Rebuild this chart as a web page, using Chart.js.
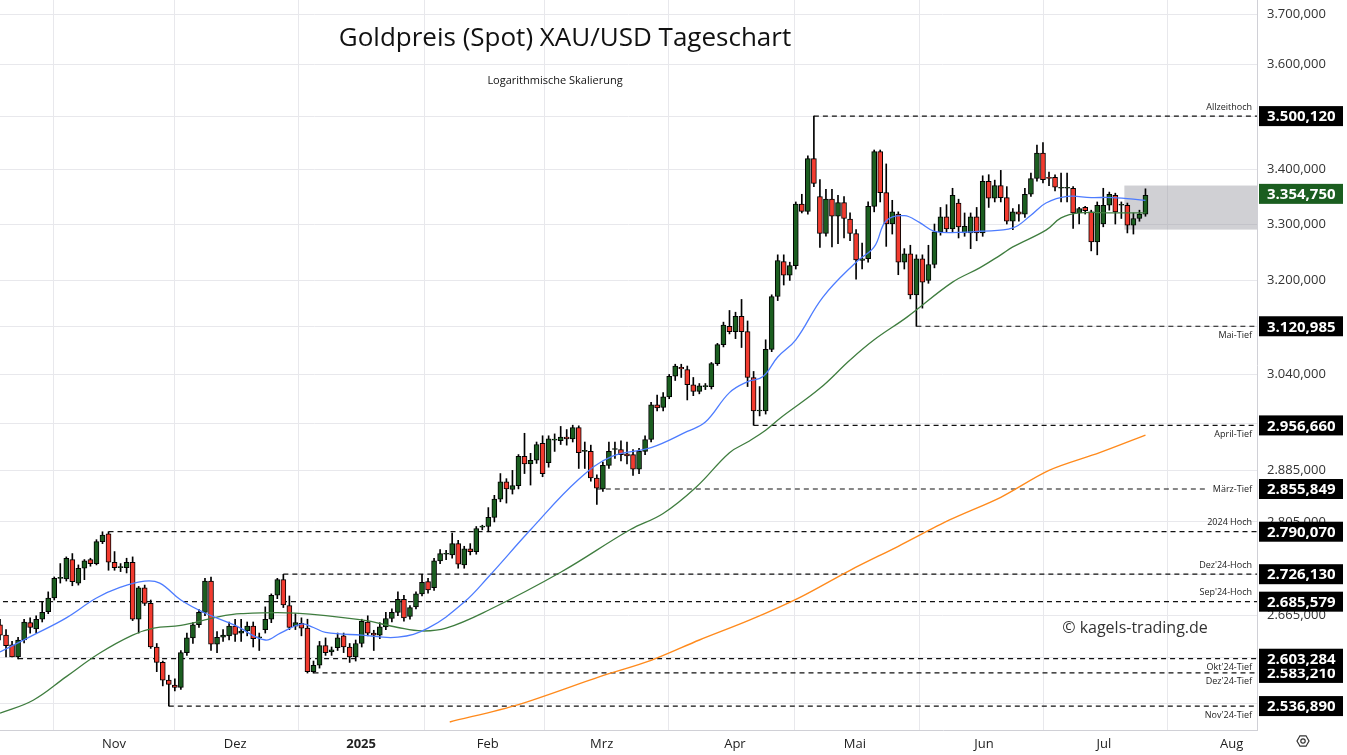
<!DOCTYPE html>
<html><head><meta charset="utf-8">
<script src="https://cdn.jsdelivr.net/npm/chart.js@4.4.1/dist/chart.umd.min.js"></script>
<style>html,body{margin:0;padding:0;background:#fff}#wrap{width:1347px;height:755px;position:relative}</style>
</head><body><div id="wrap"><canvas id="c"></canvas></div>
<script>
// OHLC per trading day (index 0 = early Oct 2024)
const ohlc = [
[2652,2660,2630,2637],[2637,2645,2606,2622],[2623,2628,2606,2606],[2606,2634,2603,2630],[2630,2660,2626,2656],
[2655,2662,2640,2648],[2646,2665,2640,2660],[2660,2686,2656,2670],[2671,2700,2668,2691],[2691,2722,2688,2720],
[2720,2742,2713,2721],[2719,2752,2716,2750],[2748,2757,2709,2715],[2713,2740,2710,2735],[2735,2748,2718,2746],
[2748,2750,2738,2742],[2742,2778,2740,2775],[2775,2790,2772,2785],[2787,2790,2732,2744],[2744,2760,2732,2736],
[2736,2742,2730,2737],[2736,2750,2728,2744],[2744,2752,2658,2660],[2660,2708,2640,2706],[2706,2710,2680,2683],
[2683,2688,2618,2620],[2620,2625,2585,2598],[2598,2600,2565,2573],[2573,2580,2537,2567],[2566,2575,2558,2563],
[2563,2615,2560,2612],[2612,2640,2608,2633],[2633,2655,2625,2652],[2652,2674,2648,2670],[2670,2720,2665,2716],
[2716,2722,2615,2624],[2624,2642,2612,2634],[2634,2645,2628,2637],[2636,2656,2630,2650],[2650,2660,2628,2638],
[2640,2660,2628,2643],[2643,2656,2636,2650],[2650,2656,2620,2632],[2633,2640,2615,2634],[2645,2678,2640,2660],
[2660,2697,2655,2695],[2695,2720,2690,2718],[2718,2726,2677,2681],[2680,2694,2645,2648],[2650,2668,2645,2655],
[2654,2662,2636,2647],[2647,2660,2583,2585],[2585,2600,2583,2594],[2594,2628,2590,2622],[2622,2633,2608,2612],
[2613,2620,2608,2616],[2619,2640,2615,2633],[2636,2640,2612,2620],[2620,2625,2598,2606],[2606,2630,2600,2625],
[2625,2660,2620,2657],[2656,2665,2636,2640],[2640,2644,2615,2637],[2637,2655,2632,2649],[2649,2670,2645,2661],
[2661,2675,2656,2670],[2670,2700,2665,2689],[2689,2695,2657,2662],[2664,2680,2660,2677],[2678,2700,2675,2697],
[2697,2726,2694,2714],[2715,2720,2698,2703],[2706,2750,2702,2746],[2746,2763,2742,2757],[2756,2762,2748,2757],
[2755,2788,2750,2772],[2772,2777,2735,2741],[2740,2768,2735,2764],[2764,2772,2755,2760],[2760,2798,2756,2795],
[2797,2800,2793,2798],[2798,2827,2790,2812],[2812,2846,2805,2840],[2840,2880,2836,2867],[2867,2872,2834,2856],
[2855,2885,2848,2861],[2861,2910,2856,2907],[2907,2944,2880,2895],[2895,2912,2862,2901],[2901,2930,2896,2926],
[2928,2940,2875,2880],[2897,2940,2890,2935],[2933,2943,2915,2934],[2932,2955,2926,2938],[2938,2950,2925,2935],
[2935,2957,2930,2953],[2953,2956,2888,2913],[2915,2930,2888,2916],[2915,2925,2868,2873],[2873,2878,2832,2857],
[2856,2898,2852,2893],[2893,2930,2888,2915],[2918,2930,2904,2919],[2918,2932,2900,2910],[2911,2930,2895,2908],
[2910,2918,2877,2887],[2887,2920,2880,2915],[2915,2940,2910,2934],[2934,2994,2930,2990],[2990,3006,2980,2985],
[2986,3010,2980,3003],[3003,3040,3000,3037],[3037,3057,3030,3054],[3052,3057,3035,3049],[3048,3054,2998,3023],
[3023,3035,3005,3012],[3012,3025,3008,3021],[3020,3025,3015,3021],[3020,3060,3016,3058],[3058,3092,3055,3090],
[3090,3128,3086,3123],[3121,3148,3108,3112],[3112,3145,3100,3138],[3138,3167,3085,3112],[3112,3130,3020,3035],
[3035,3045,2957,2980],[2980,3020,2972,2981],[2980,3098,2975,3082],[3082,3175,3078,3172],[3172,3245,3165,3235],
[3233,3245,3192,3209],[3209,3232,3200,3226],[3226,3340,3220,3336],[3336,3354,3320,3323],[3323,3425,3318,3420],
[3420,3500,3368,3374],[3350,3381,3258,3283],[3283,3363,3278,3345],[3345,3363,3259,3314],[3314,3352,3265,3339],
[3339,3350,3275,3310],[3309,3320,3270,3283],[3283,3290,3202,3236],[3235,3266,3220,3238],[3238,3340,3232,3332],
[3332,3436,3322,3433],[3433,3436,3340,3357],[3357,3410,3260,3300],[3300,3343,3282,3322],[3318,3322,3210,3232],
[3232,3256,3220,3247],[3247,3262,3168,3175],[3175,3245,3121,3238],[3238,3245,3152,3197],[3200,3262,3195,3228],
[3228,3300,3222,3286],[3286,3330,3280,3313],[3313,3335,3285,3291],[3291,3365,3285,3352],[3338,3345,3275,3295],
[3284,3320,3278,3296],[3284,3320,3256,3313],[3313,3330,3270,3284],[3284,3388,3278,3378],[3378,3390,3330,3347],
[3347,3380,3340,3370],[3370,3398,3340,3348],[3348,3368,3300,3305],[3305,3328,3290,3322],[3322,3335,3305,3318],
[3318,3365,3312,3354],[3354,3393,3350,3383],[3383,3445,3378,3430],[3430,3450,3375,3381],[3385,3395,3370,3383],
[3385,3390,3360,3367],[3365,3393,3340,3366],[3365,3393,3340,3366],[3365,3368,3292,3320],[3320,3330,3300,3328],
[3330,3332,3318,3324],[3322,3325,3252,3268],[3268,3340,3245,3334],[3300,3365,3295,3334],[3334,3358,3325,3354],
[3352,3356,3300,3322],[3334,3340,3310,3335],[3334,3338,3284,3298],[3298,3320,3282,3310],[3310,3325,3305,3318],
[3318,3364,3314,3352]
];
// Moving averages: [day index, value]
const ma20 = [[0,2613],[5.5,2637],[11,2662],[16,2691],[20,2707],[24,2716],[26.5,2713],[30,2688],[34,2669],[39,2651],
[44,2630],[46.5,2640],[50,2653],[52,2648],[54,2641],[60,2637],[66,2634],[71,2647],[77,2685],[81,2722],[88,2793],
[96,2871],[101.5,2907],[108,2921],[114,2947],[117,2962],[121,3010],[124,3028],[126.5,3036],[129,3069],[132,3098],
[136.5,3171],[142,3232],[145,3259],[147,3306],[150,3315],[152.5,3303],[155,3287],[159,3285],[162.5,3287],[168,3293],
[171,3316],[173.5,3338],[177,3350],[181,3348],[184.5,3348],[190,3343]];
const ma50 = [[0,2527],[5.5,2545],[11,2578],[16.5,2611],[22,2637],[25.5,2647],[30,2651],[36,2663],[40,2668],[49,2669],
[60,2659],[66,2648],[70,2643],[74,2647],[81,2673],[93,2729],[104.5,2793],[110,2818],[115.5,2859],[121,2913],[124,2930],
[127,2949],[129.5,2969],[136,3017],[141,3064],[145,3098],[150.5,3137],[158,3197],[162.5,3222],[166,3245],[168,3259],
[173.5,3289],[176,3311],[179,3320],[184.5,3320],[190,3320]];
const ma200 = [[74.6,2515],[86,2539],[99.5,2578],[108,2601],[116,2630],[124.4,2659],[132.7,2692],[141,2732],[149,2768],
[157.5,2808],[166,2843],[174,2885],[182.4,2913],[190,2941]];
// Marked levels: [label, value, start day index, label placement]
const levels = [["Allzeithoch",3500.12,135,"above"],["Mai-Tief",3120.985,152,"below"],["April-Tief",2956.66,125,"below"],
["März-Tief",2855.849,99,"on"],["2024 Hoch",2790.07,18,"above"],["Dez'24-Hoch",2726.13,47,"above"],
["Sep'24-Hoch",2685.579,-1,"above"],["Okt'24-Tief",2603.284,3,"below"],["Dez'24-Tief",2583.21,52,"below"],
["Nov'24-Tief",2536.89,28,"below"]];
const lastPrice = 3354.75;
const yTicks = [3700,3600,3500,3400,3300,3200,3120,3040,2960,2885,2805,2725,2665,2605,2540];
const monthTicks = [18.9,39,59.9,80.9,99.8,121.9,141.8,163.2,183.1,204.3];
const monthLabels = ["Nov","Dez","2025","Feb","Mrz","Apr","Mai","Jun","Jul","Aug"];
const rangeBox = [186.5,3290,3370];

const fmt = v => v.toLocaleString('de-DE',{minimumFractionDigits:3,maximumFractionDigits:3});
const XMAX = 208.5;
const wicks = ohlc.map((d,i)=>({x:i,y:[d[2],d[1]]}));
const bodies = ohlc.map((d,i)=>({x:i,y:[d[0],d[3]]}));
const bodyCol = ohlc.map(d=> d[3]>=d[0] ? '#1b5e20' : '#f23b2f');
const levelSets = levels.map(l=>({type:'line',data:[{x:l[2],y:l[1]},{x:(l[3]==='on'?XMAX-8:XMAX),y:l[1]}],
  borderColor:'#111',borderWidth:1.2,borderDash:[5,4],pointRadius:0,order:5}));

const overlay = {
  id:'overlay',
  beforeDatasetsDraw(ch){
    const {ctx,scales:{x,y},chartArea:a}=ch;
    ctx.save();
    ctx.fillStyle='rgba(150,150,160,0.45)';
    const y1=y.getPixelForValue(rangeBox[2]), y2=y.getPixelForValue(rangeBox[1]);
    ctx.fillRect(x.getPixelForValue(rangeBox[0]),y1,a.right-x.getPixelForValue(rangeBox[0]),y2-y1);
    ctx.restore();
  },
  afterDraw(ch){
    const {ctx,scales:{x,y},chartArea:a}=ch;
    ctx.save();
    ctx.textBaseline='middle';
    ctx.font='13px "Open Sans", sans-serif';ctx.fillStyle='#333';ctx.textAlign='left';
    yTicks.forEach(v=>ctx.fillText(fmt(v),1267,y.getPixelForValue(v)));
    ctx.fillStyle='#111';ctx.textAlign='center';
    ctx.font='26px "Open Sans", "DejaVu Sans", sans-serif';
    ctx.fillText('Goldpreis (Spot) XAU/USD Tageschart',565,39);
    ctx.font='11px "Open Sans", sans-serif';
    ctx.fillText('Logarithmische Skalierung',555,81);
    ctx.font='16px "Open Sans", sans-serif';ctx.fillStyle='#333';
    ctx.fillText('© kagels-trading.de',1135,628);
    ctx.font='9px "Open Sans", sans-serif';ctx.textAlign='right';
    levels.forEach(l=>{
      const py=y.getPixelForValue(l[1]);
      let ty = l[3]==='above'? py-9 : l[3]==='below'? py+9 : py;
      ctx.fillStyle='#222';
      ctx.fillText(l[0],1252,ty);
    });
    const box=(v,col)=>{
      const py=y.getPixelForValue(v);
      ctx.fillStyle=col;ctx.fillRect(1259,py-10,84,20);
      ctx.fillStyle='#fff';ctx.font='bold 15px "Open Sans", sans-serif';ctx.textAlign='left';
      ctx.fillText(fmt(v),1267,py+1);
    };
    levels.slice().reverse().forEach(l=>box(l[1],'#000'));
    box(lastPrice,'#1b5e20');
    ctx.strokeStyle='#333';ctx.lineWidth=1.2;
    ctx.beginPath();const cx=1303,cy=741;
    for(let k=0;k<6;k++){const ang=Math.PI/3*k;ctx.lineTo(cx+6*Math.cos(ang),cy+6*Math.sin(ang));}
    ctx.closePath();ctx.stroke();ctx.beginPath();ctx.arc(cx,cy,2.2,0,2*Math.PI);ctx.stroke();
    ctx.restore();
  }
};

new Chart(document.getElementById('c'),{
  type:'bar',
  data:{datasets:[
    {type:'line',data:ma20.map(p=>({x:p[0],y:p[1]})),borderColor:'#4d7cff',borderWidth:1.3,pointRadius:0,tension:0.4,order:1},
    {type:'line',data:ma50.map(p=>({x:p[0],y:p[1]})),borderColor:'#3f7d3f',borderWidth:1.3,pointRadius:0,tension:0.4,order:1},
    {type:'line',data:ma200.map(p=>({x:p[0],y:p[1]})),borderColor:'#ff8a1c',borderWidth:1.4,pointRadius:0,tension:0.3,order:1},
    {data:bodies,backgroundColor:bodyCol,borderColor:'#000',borderWidth:1,borderSkipped:false,barThickness:5,minBarLength:1,grouped:false,order:2},
    {data:wicks,backgroundColor:'#000',barThickness:1,grouped:false,order:3},
    ...levelSets
  ]},
  options:{
    responsive:true,maintainAspectRatio:false,animation:false,
    layout:{padding:0},
    plugins:{legend:{display:false},tooltip:{enabled:false}},
    scales:{
      x:{type:'linear',min:0,max:XMAX,offset:false,
        afterBuildTicks:s=>{s.ticks=monthTicks.map(v=>({value:v}));},
        afterFit:s=>{s.height=25;},
        grid:{color:'#e8e8ec',drawTicks:false},border:{color:'#d0d0d6'},
        ticks:{padding:6,autoSkip:false,maxRotation:0,color:'#222',
          callback:(v,i)=>monthLabels[i],
          font:c=>({family:'"Open Sans", sans-serif',size:13,weight:(c.tick&&c.tick.value===59.9)?'bold':'normal'})}},
      y:{type:'logarithmic',position:'right',min:2504,max:3729,
        afterBuildTicks:s=>{s.ticks=yTicks.map(v=>({value:v}));},
        afterFit:s=>{s.width=90;},
        grid:{color:'#e8e8ec',drawTicks:false},border:{color:'#d0d0d6'},
        ticks:{display:false}}
    }
  },
  plugins:[overlay]
});
</script></body></html>
